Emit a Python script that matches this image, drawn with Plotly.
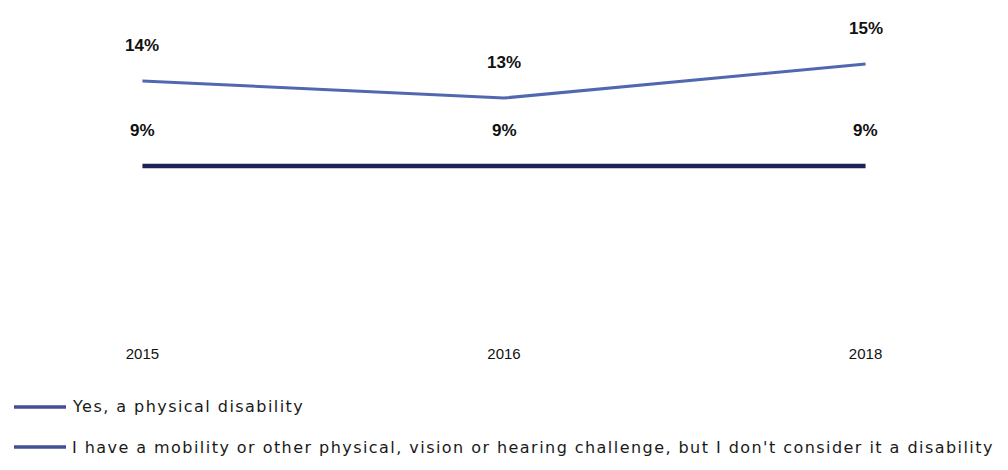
import plotly.graph_objects as go

years = ["2015", "2016", "2018"]
physical_disability = [0.09, 0.09, 0.09]
challenge_not_disability = [0.14, 0.13, 0.15]

series_names = [
    "Yes, a physical disability",
    "I have a mobility or other physical, vision or hearing challenge, but I don't consider it a disability",
]
series_values = [physical_disability, challenge_not_disability]
series_colors = ["#1c2456", "#5068b0"]
series_widths = [4.5, 3]

W, H = 1008, 470
M_TOP, M_BOT = 13, 151
plot_h = H - M_TOP - M_BOT

fig = go.Figure()
for name, vals, color, lw in zip(series_names, series_values, series_colors, series_widths):
    fig.add_trace(go.Scatter(
        x=years, y=vals, mode="lines", name=name,
        line=dict(color=color, width=lw), showlegend=False,
    ))
    # value labels above each point (category index positions)
    for i, v in enumerate(vals):
        fig.add_annotation(
            x=i, y=v, text=f"{round(v * 100)}%", showarrow=False,
            yshift=36,
            font=dict(family="Liberation Sans", size=17, color="#111111", weight="bold"),
        )

# hand-placed legend below the axis
legend_rows_px = [407, 447]
for name, color, row in zip(series_names, series_colors, legend_rows_px):
    yp = (H - M_BOT - row) / plot_h
    fig.add_shape(type="line", xref="paper", yref="paper",
                  x0=14 / W, x1=66 / W, y0=yp, y1=yp,
                  line=dict(color="#444f93", width=3.5))
    fig.add_annotation(xref="paper", yref="paper", x=70 / W, y=yp,
                       xanchor="left", yanchor="middle", showarrow=False,
                       text=f'<span style="letter-spacing:1.45px">{name}</span>',
                       font=dict(family="DejaVu Sans", size=16, color="#1a1a1a"))

fig.update_layout(
    width=W, height=H,
    margin=dict(l=0, r=0, t=M_TOP, b=M_BOT),
    paper_bgcolor="white", plot_bgcolor="white",
    xaxis=dict(type="category", range=[-0.394, 2.394], showgrid=False,
               zeroline=False, showline=False, ticks="",
               ticklabelstandoff=24,
               tickfont=dict(family="Liberation Sans", size=15, color="#111111")),
    yaxis=dict(range=[0, 0.18], visible=False),
)

fig.write_html("out.html")
